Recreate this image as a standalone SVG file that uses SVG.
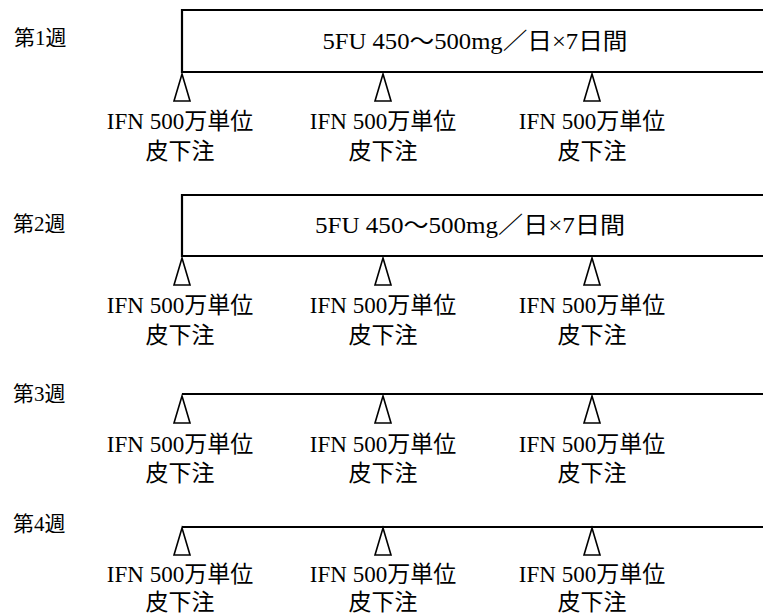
<svg xmlns="http://www.w3.org/2000/svg" width="763" height="614" viewBox="0 0 763 614">
<defs>
<style>
.bg{fill:#ffffff}
.ln{fill:none;stroke:#000;stroke-width:2.2}
.tri{fill:#fff;stroke:#000;stroke-width:1.6;stroke-linejoin:miter}
.wk{font-family:"Liberation Serif","Noto Sans CJK JP",serif;font-size:21px;fill:#000}
.lb{font-family:"Liberation Serif","Noto Sans CJK JP",serif;font-size:23px;fill:#000;text-anchor:middle}
.fu{font-family:"Liberation Serif","Noto Sans CJK JP",serif;font-size:23px;fill:#000;text-anchor:middle}
</style>
<path id="tr" class="tri" d="M0,0 L8,27 L-8,27 Z"/>
</defs>
<rect class="bg" x="0" y="0" width="763" height="614"/>

<g id="connectors">
<path class="ln" d="M763,10 H182 V72 H763"/>
<path class="ln" d="M763,195 H182 V256 H763"/>
<path class="ln" d="M182,394 H763"/>
<path class="ln" d="M182,527 H763"/>
</g>

<g id="week1">
<text class="wk" x="14" y="45">第1週</text>
<text class="fu" x="475" y="49" textLength="305" lengthAdjust="spacingAndGlyphs">5FU 450～500mg／日×7日間</text>
<use href="#tr" x="182" y="74"/>
<use href="#tr" x="383" y="74"/>
<use href="#tr" x="592" y="74"/>
<text class="lb" x="180" y="129">IFN 500万単位</text><text class="lb" x="180" y="159">皮下注</text>
<text class="lb" x="383" y="129">IFN 500万単位</text><text class="lb" x="383" y="159">皮下注</text>
<text class="lb" x="592" y="129">IFN 500万単位</text><text class="lb" x="592" y="159">皮下注</text>
</g>

<g id="week2">
<text class="wk" x="13" y="231">第2週</text>
<text class="fu" x="470" y="233" textLength="310" lengthAdjust="spacingAndGlyphs">5FU 450～500mg／日×7日間</text>
<use href="#tr" x="182" y="258"/>
<use href="#tr" x="383" y="258"/>
<use href="#tr" x="592" y="258"/>
<text class="lb" x="180" y="313">IFN 500万単位</text><text class="lb" x="180" y="343">皮下注</text>
<text class="lb" x="383" y="313">IFN 500万単位</text><text class="lb" x="383" y="343">皮下注</text>
<text class="lb" x="592" y="313">IFN 500万単位</text><text class="lb" x="592" y="343">皮下注</text>
</g>

<g id="week3">
<text class="wk" x="13" y="401">第3週</text>
<use href="#tr" x="182" y="396"/>
<use href="#tr" x="383" y="396"/>
<use href="#tr" x="592" y="396"/>
<text class="lb" x="180" y="452">IFN 500万単位</text><text class="lb" x="180" y="481">皮下注</text>
<text class="lb" x="383" y="452">IFN 500万単位</text><text class="lb" x="383" y="481">皮下注</text>
<text class="lb" x="592" y="452">IFN 500万単位</text><text class="lb" x="592" y="481">皮下注</text>
</g>

<g id="week4">
<text class="wk" x="13" y="531">第4週</text>
<use href="#tr" x="182" y="528"/>
<use href="#tr" x="383" y="528"/>
<use href="#tr" x="592" y="528"/>
<text class="lb" x="180" y="582">IFN 500万単位</text><text class="lb" x="180" y="610">皮下注</text>
<text class="lb" x="383" y="582">IFN 500万単位</text><text class="lb" x="383" y="610">皮下注</text>
<text class="lb" x="592" y="582">IFN 500万単位</text><text class="lb" x="592" y="610">皮下注</text>
</g>
</svg>
